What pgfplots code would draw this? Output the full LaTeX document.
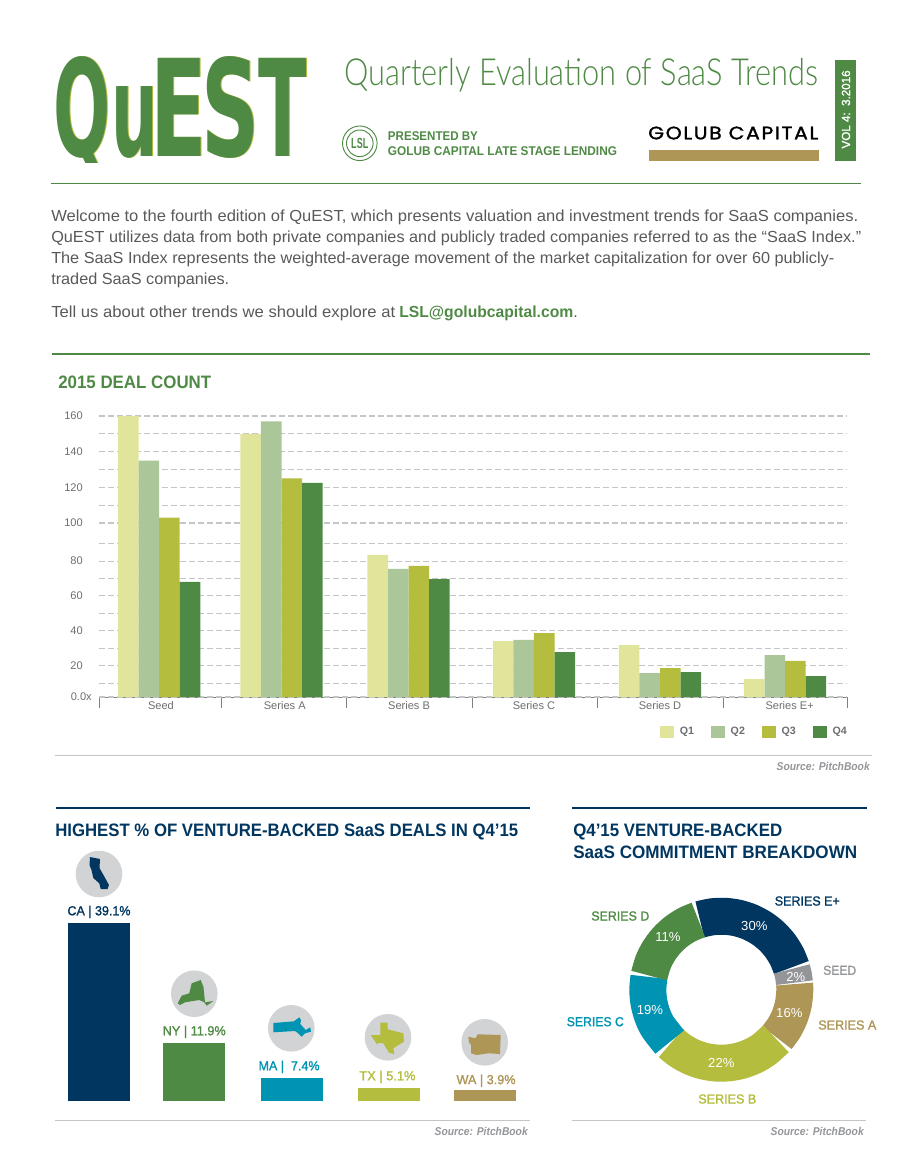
\documentclass[border=0pt]{standalone}
\usepackage{graphicx}
\usepackage{fontspec}
\setmainfont{Liberation Sans}
\newfontfamily\medf[FakeBold=1.4]{Liberation Sans}
\newfontfamily\lightf{Lato Light}
\newfontfamily\logof{DejaVu Sans}
\newfontfamily\popf[LetterSpace=8,FakeBold=1.5]{Poppins}
\usepackage{pgfplots}
\pgfplotsset{compat=1.18}
\usepgfplotslibrary{polar}

\definecolor{green}{HTML}{4F8A45}
\definecolor{navy}{HTML}{003660}
\definecolor{teal}{HTML}{0093B2}
\definecolor{lime}{HTML}{B5BD3F}
\definecolor{gold}{HTML}{AE9656}
\definecolor{qone}{HTML}{E1E59B}
\definecolor{qtwo}{HTML}{ABC698}
\definecolor{body}{HTML}{58595B}
\definecolor{tickgray}{HTML}{6D6E71}
\definecolor{circ}{HTML}{D1D3D4}
\definecolor{seed}{HTML}{939598}
\definecolor{rule}{HTML}{C4C5C6}

% 1 px of the page
\newlength\pxu \setlength\pxu{0.75pt}
% set text to a given width in px
\newcommand\tw[2]{\resizebox{#1\pxu}{\height}{#2}}
\newcommand\fs[1]{\fontsize{#1}{#1}\selectfont}

\newcommand\logo[2]{%
  \begin{scope}[xshift=#2*\pxu, every node/.style={inner sep=0pt,anchor=base west,text=#1}]
    \begin{scope}
      \clip (50,50) rectangle (112,163);
      \node at (53.7,157) {\logof\bfseries\fs{101}\scalebox{.5}[1]{Q}};
    \end{scope}
    \node at (110.8,157) {\logof\bfseries\fs{101}\scalebox{.486}[.95]{u}};
    \node at (150.5,157) {\logof\bfseries\fs{101}\scalebox{.615}[1]{E}};
    \node at (201.7,157) {\logof\bfseries\fs{101}\scalebox{.6}[1]{S}};
    \node at (258,157) {\logof\bfseries\fs{101}\scalebox{.527}[1]{T}};
  \end{scope}}

\begin{document}
\begin{tikzpicture}[x=0.75pt,y=-0.75pt,
  txt/.style={inner sep=0pt,anchor=base west},
  txr/.style={inner sep=0pt,anchor=base east},
  txc/.style={inner sep=0pt,anchor=base}]
\path[use as bounding box] (0,0) rectangle (913,1155);

% header
\logo{lime}{1}
\logo{green}{0}
\node[txt,text=green] at (344,86) {\tw{474}{\lightf\fs{28}Quarterly Evaluation of SaaS Trends}};
\draw[green,line width=0.7pt] (359.8,143.3) circle (17.3);
\draw[green,line width=0.7pt] (359.8,143.3) circle (13.3);
\node[text=green,inner sep=0pt] at (359.8,143.5) {\bfseries\fs{8.5}\scalebox{.8}[1.3]{LSL}};
\node[txt,text=green] at (387.7,140.7) {\tw{90}{\bfseries\fs{9.5}PRESENTED BY}};
\node[txt,text=green] at (387.7,156) {\tw{229}{\bfseries\fs{9.5}GOLUB CAPITAL LATE STAGE LENDING}};
\node[txt,text=black] at (648,139.3) {\tw{170}{\popf\fs{13.5}GOLUB CAPITAL}};
\fill[gold] (649,150) rectangle (819,160.7);
\fill[green] (835,60) rectangle (856,160.7);
\node[txt,text=white,rotate=90] at (850,148.7) {\tw{78}{\medf\fs{8.8}VOL 4:\ \ 3.2016}};
\draw[green,line width=1.1pt] (51,183.5) -- (861,183.5);

% intro
\node[txt,text=body] at (51,222) {\tw{807}{\fs{12}Welcome to the fourth edition of QuEST, which presents valuation and investment trends for SaaS companies.}};
\node[txt,text=body] at (51,243) {\tw{810}{\fs{12}QuEST utilizes data from both private companies and publicly traded companies referred to as the “SaaS Index.”}};
\node[txt,text=body] at (51,264) {\tw{783}{\fs{12}The SaaS Index represents the weighted-average movement of the market capitalization for over 60 publicly-}};
\node[txt,text=body] at (51,285) {\tw{178}{\fs{12}traded SaaS companies.}};
\node[txt,text=body] at (51,317) {\tw{344}{\fs{12}Tell us about other trends we should explore at}};
\node[txt,text=green] at (399,317) {\tw{174}{\bfseries\fs{12}LSL@golubcapital.com}};
\node[txt,text=body] at (573,317) {\fs{12}.};

% deal count
\draw[green,line width=1.5pt] (52,354) -- (870,354);
\node[txt,text=green] at (58,388.5) {\tw{153}{\bfseries\fs{13.5}2015 DEAL COUNT}};

\begin{axis}[
    at={(74.25pt,-522.75pt)}, anchor=south west,
    scale only axis, width=561pt, height=210.75pt,
    ybar=0pt, bar width=15.4pt,
    xmin=0, xmax=6, ymin=0, ymax=160,
    % the picture spaces its grid unevenly, this reproduces the spacing
    y coord trafo/.code={\pgfmathparse{#1<=10 ? 4.2*#1 : (#1<=90 ? 42+(#1-10)*5.225 : (#1<=100 ? 460+(#1-90)*6.2 : 522+(#1-100)*5.35))}},
    axis x line=bottom, axis y line=left,
    x axis line style={-,color=gray,line width=0.75pt},
    y axis line style={draw=none},
    ytick={20,40,...,160},
    yticklabels={20,40,60,80,100,120,140,160},
    minor ytick={10,30,...,150},
    extra y ticks={0}, extra y tick labels={0.0x},
    extra y tick style={yticklabel style={xshift=6.75pt}},
    ymajorgrids, yminorgrids,
    major grid style={dash pattern=on 4.5pt off 2.25pt,color=rule,line width=0.8pt},
    minor grid style={dash pattern=on 4.5pt off 2.25pt,color=rule,line width=0.6pt},
    xtick={0.497,1.49,2.487,3.489,4.5,5.54},
    xticklabels={Seed,Series A,Series B,Series C,Series D,Series E+},
    minor xtick={0,0.979,1.987,2.997,4,5.01,6},
    tick align=outside,
    major tick length=0pt, minor tick length=8pt,
    minor x tick style={color=gray,line width=0.6pt},
    minor y tick style={draw=none},
    major y tick style={draw=none},
    tick label style={font=\fs{8.3},text=tickgray},
    yticklabel style={inner sep=0pt,anchor=east,xshift=-12pt},
    xticklabel style={inner sep=0pt,anchor=base,yshift=-9pt},
    legend image code/.code={\fill[#1] (0pt,-4.5pt) rectangle (10.5pt,4.5pt);},
    legend columns=4,
    legend style={at={(1,-0.1246)},anchor=east,draw=none,fill=none,inner sep=0pt,
      nodes={inner sep=0pt,font=\bfseries\fs{8},text=tickgray},
      /tikz/every odd column/.append style={column sep=4.5pt},
      /tikz/every even column/.append style={column sep=12.5pt}},
]
\addplot[fill=qone,draw=none] coordinates {(0.483,160) (1.464,150) (2.483,83.5) (3.489,34.1) (4.5,31.8) (5.503,12.3)};
\addplot[fill=qtwo,draw=none] coordinates {(0.483,135) (1.464,157) (2.483,75.5) (3.489,34.7) (4.5,15.7) (5.503,26)};
\addplot[fill=lime,draw=none] coordinates {(0.483,103) (1.464,125) (2.483,77.2) (3.489,38.7) (4.5,18.6) (5.503,22.7)};
\addplot[fill=green,draw=none] coordinates {(0.483,68) (1.464,122.5) (2.483,69.7) (3.489,27.8) (4.5,16.3) (5.503,14)};
\legend{Q1,Q2,Q3,Q4}
\end{axis}

\draw[rule,line width=0.8pt] (55,755.7) -- (872,755.7);
\node[txr,text=seed] at (870,770.5) {\tw{93}{\bfseries\itshape\fs{8.5}Source: PitchBook}};

% states
\draw[navy,line width=1.9pt] (56,808) -- (530,808);
\node[txt,text=navy] at (55,836) {\tw{463}{\bfseries\fs{13.5}HIGHEST \% OF VENTURE-BACKED SaaS DEALS IN Q4’15}};

\foreach \cx/\cy in {99/874,194.3/993.7,291.3/1028.3,388/1037.3,484.7/1042.3}
  \fill[circ] (\cx,\cy) circle (23.3);
\fill[navy] (90,857)--(100,859)--(99.5,868)--(104,876)--(109,885)--(107.5,889)--(100.7,889)--(99.3,883.3)--(93.3,878)--(91.5,870)--(89.5,865)--cycle;
\fill[green] (177.7,1003.3)--(181.7,995.7)--(189.3,993.3)--(191.7,983.3)--(200.7,980)--(203.5,987)--(205,1002.3)--(213.3,1001)--(206.7,1005.7)--(204,1002)--(199,1000)--(185,1002.3)--(180,1005)--cycle;
\fill[teal] (273.3,1023)--(294,1021.3)--(299.3,1017.3)--(301,1020)--(300.3,1024)--(305.7,1030)--(310.3,1027.3)--(311,1031.7)--(305,1033.3)--(301.7,1036.7)--(298.3,1033.3)--(295,1031)--(273.3,1032.3)--cycle;
\fill[lime] (380.3,1022.7)--(387.7,1022.7)--(387.7,1029.3)--(403.3,1033.3)--(404,1041.7)--(393.3,1048.3)--(394.3,1054)--(389,1052.7)--(383.3,1043.3)--(380,1042.7)--(376.7,1044)--(370.7,1035)--(380.3,1035)--cycle;
\fill[gold] (468.3,1036.7)--(475.7,1038.3)--(477.7,1034.3)--(500.7,1035)--(500,1054)--(488.3,1053.3)--(476.7,1055)--(471,1053.3)--(471,1045)--(469,1042.3)--cycle;

\begin{axis}[
    at={(74.25pt,-825.75pt)}, anchor=south west,
    scale only axis, width=289.5pt, height=133.5pt,
    hide axis, clip=false,
    ybar=0pt, bar width=46.5pt,
    xmin=0, xmax=4, ymin=0, ymax=39.1,
    % bar heights in the picture are not proportional to their labels
    y coord trafo/.code={\pgfmathparse{#1<=3.9 ? #1*2.82 : (#1<=5.1 ? 11+(#1-3.9)*1.667 : (#1<=7.4 ? 13+(#1-5.1)*4.348 : (#1<=11.9 ? 23+(#1-7.4)*7.778 : 58+(#1-11.9)*4.412)))}},
    bar shift=0pt,
    nodes near coords align={anchor=base},
    every node near coord/.append style={inner sep=0pt,yshift=5.8pt,font=\medf\fs{9.8}},
]
\addplot[fill=navy,draw=none,nodes near coords={\tw{63}{CA | 39.1\%}},every node near coord/.append style={text=navy}] coordinates {(0,39.1)};
\addplot[fill=green,draw=none,nodes near coords={\tw{63}{NY | 11.9\%}},every node near coord/.append style={text=green}] coordinates {(0.987,11.9)};
\addplot[fill=teal,draw=none,nodes near coords={\tw{61}{MA |\ \ 7.4\%}},every node near coord/.append style={text=teal,xshift=-2.2pt}] coordinates {(2,7.4)};
\addplot[fill=lime,draw=none,nodes near coords={\tw{56}{TX | 5.1\%}},every node near coord/.append style={text=lime,xshift=-0.8pt}] coordinates {(3,5.1)};
\addplot[fill=gold,draw=none,nodes near coords={\tw{59}{WA | 3.9\%}},every node near coord/.append style={text=gold,xshift=0.8pt,yshift=-1.4pt}] coordinates {(4,3.9)};
\end{axis}

\draw[rule,line width=0.8pt] (55,1120.7) -- (530,1120.7);
\node[txr,text=seed] at (528,1135) {\tw{93}{\bfseries\itshape\fs{8.5}Source: PitchBook}};

% breakdown
\draw[navy,line width=1.9pt] (572,808) -- (867,808);
\node[txt,text=navy] at (573,836) {\tw{209}{\bfseries\fs{13.5}Q4’15 VENTURE-BACKED}};
\node[txt,text=navy] at (573,858.3) {\tw{284}{\bfseries\fs{13.5}SaaS COMMITMENT BREAKDOWN}};

\begin{polaraxis}[
    at={(540.975pt,-742.275pt)}, anchor=center,
    scale only axis, width=138pt, height=138pt,
    hide axis, clip=false,
    ymin=0, ymax=92,
    donut/.style={no markers,smooth,line width=27.75pt,line cap=butt,line join=round},
]
% angle around the ring, radius of its middle
\addplot[donut,color=navy] coordinates {(17.6,73.5) (27,73.5) (37,73.5) (47,73.5) (57,73.5) (67,73.5) (77,73.5) (87,73.5) (97,73.5) (107,73.5)};
\addplot[donut,color=seed] coordinates {(5.5,73.5) (11,73.5) (16.4,73.5)};
\addplot[donut,color=gold] coordinates {(319.2,73.5) (329,73.5) (339,73.5) (349,73.5) (359,73.5) (364.4,73.5)};
\addplot[donut,color=lime] coordinates {(226.6,73.5) (236,73.5) (246,73.5) (256,73.5) (266,73.5) (276,73.5) (286,73.5) (296,73.5) (306,73.5) (318.1,73.5)};
\addplot[donut,color=teal] coordinates {(170,73.5) (180,73.5) (190,73.5) (200,73.5) (210,73.5) (225.4,73.5)};
\addplot[donut,color=green] coordinates {(108.2,73.5) (118,73.5) (128,73.5) (138,73.5) (148,73.5) (158,73.5) (168.9,73.5)};
\end{polaraxis}

\begin{scope}[every node/.style={text=white,inner sep=0pt,font=\fs{9.8}}]
\node at (754.3,925.7) {30\%};
\node at (795.7,976.7) {2\%};
\node at (789.3,1013.3) {16\%};
\node at (721.3,1062.7) {22\%};
\node at (650,1009.7) {19\%};
\node at (668,937.3) {11\%};
\end{scope}
\begin{scope}[every node/.style={inner sep=0pt,font=\medf\fs{9.8}}]
\node[text=navy] at (807.3,901) {\tw{65}{SERIES E+}};
\node[text=seed] at (839.7,970.3) {\tw{33}{SEED}};
\node[text=gold] at (847.3,1025) {\tw{58}{SERIES A}};
\node[text=lime] at (727.3,1099) {\tw{58}{SERIES B}};
\node[text=teal] at (595.3,1021.7) {\tw{57}{SERIES C}};
\node[text=green] at (620.3,916) {\tw{58}{SERIES D}};
\end{scope}

\draw[rule,line width=0.8pt] (572,1120.7) -- (866,1120.7);
\node[txr,text=seed] at (864,1135) {\tw{93}{\bfseries\itshape\fs{8.5}Source: PitchBook}};
\end{tikzpicture}
\end{document}
